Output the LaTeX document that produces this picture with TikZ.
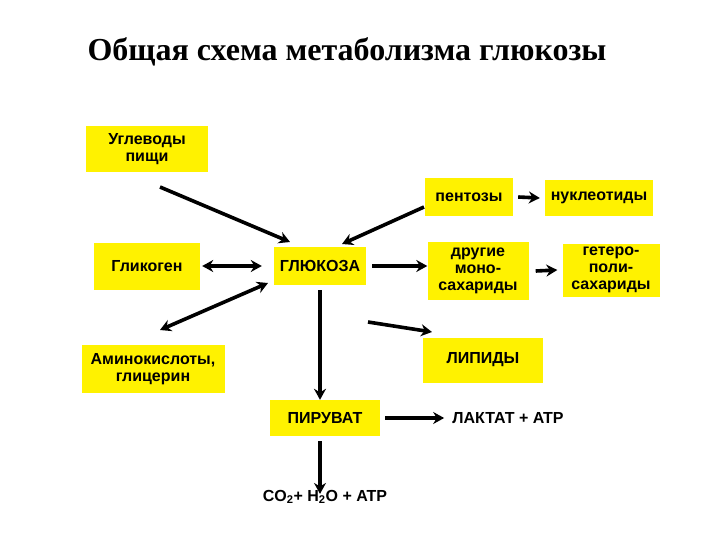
\documentclass[tikz,border=0pt]{standalone}
\usepackage{fontspec}
\setmainfont{Liberation Sans}
\newfontfamily\titlefont{Liberation Serif}
\usetikzlibrary{arrows.meta}
\begin{document}
\begin{tikzpicture}[x=1pt,y=-1pt,
  box/.style={fill=yellow,inner sep=0pt,font=\bfseries\fontsize{16}{17}\selectfont,align=center},
  txt/.style={inner sep=0pt,font=\bfseries\fontsize{16}{17}\selectfont},
  arr/.style={line width=3.6pt,-{Stealth[length=11pt,width=12pt]}},
  darr/.style={line width=3.6pt,{Stealth[length=11pt,width=12pt]}-{Stealth[length=11pt,width=12pt]}}]
\useasboundingbox (0,0) rectangle (720,540);
\node[font=\titlefont\bfseries\fontsize{32}{36}\selectfont] (title) at (347,52) {Общая схема метаболизма глюкозы};
\node[box,minimum width=122pt,minimum height=46pt] (ug) at (147,149) {Углеводы\\пищи};
\node[box,minimum width=88pt,minimum height=38pt] (pe) at (469,197) {пентозы};
\node[box,minimum width=108pt,minimum height=36pt] (nu) at (599,198) {нуклеотиды};
\node[box,minimum width=106pt,minimum height=47pt] (gl) at (147,266) {Гликоген};
\node[box,minimum width=92pt,minimum height=38pt] (gk) at (320,266) {ГЛЮКОЗА};
\node[box,minimum width=101pt,minimum height=58pt] (mo) at (478,271) {другие\\моно-\\сахариды};
\node[box,minimum width=97pt,minimum height=53pt] (ge) at (611,270) {гетеро-\\поли-\\сахариды};
\node[box,minimum width=143pt,minimum height=48pt] (am) at (153,369) {Аминокислоты,\\глицерин};
\node[box,minimum width=120pt,minimum height=45pt] (li) at (483,360) {ЛИПИДЫ};
\node[box,minimum width=110pt,minimum height=36pt] (pi) at (325,418) {ПИРУВАТ};
\node[txt] (la) at (508,418) {ЛАКТАТ + ATP};
\node[txt] (co) at (325,497) {CO\textsubscript{2}+ H\textsubscript{2}O + ATP};
\coordinate (a1) at (160,187); \coordinate (a2) at (290,242);
\draw[arr] (a1) -- (a2);
\coordinate (b1) at (424,207); \coordinate (b2) at (342,244);
\draw[arr] (b1) -- (b2);
\draw[darr] (gl.east) ++(2,0) -- ([xshift=-12pt]gk.west);
\coordinate (c1) at (160,330); \coordinate (c2) at (268,283);
\draw[darr] (c1) -- (c2);
\draw[arr] ([xshift=6pt]gk.east) -- (gk.east -| mo.west);
\coordinate (d1) at (368,322); \coordinate (d2) at (432,332);
\draw[arr] (d1) -- (d2);
\draw[arr] (gk.south) ++(0,5) -- (pi.north -| gk.south);
\draw[arr] ([xshift=5pt]pe.east) -- ([xshift=-5pt]nu.west);
\draw[arr] ([xshift=7pt]mo.east) -- ([xshift=-5pt]ge.west);
\draw[arr] ([xshift=5pt]pi.east) -- ([xshift=-8pt]la.west);
\draw[arr] (pi.south -| gk.south) ++(0,5) -- ([yshift=-4pt]co.north -| gk.south);
\end{tikzpicture}
\end{document}
